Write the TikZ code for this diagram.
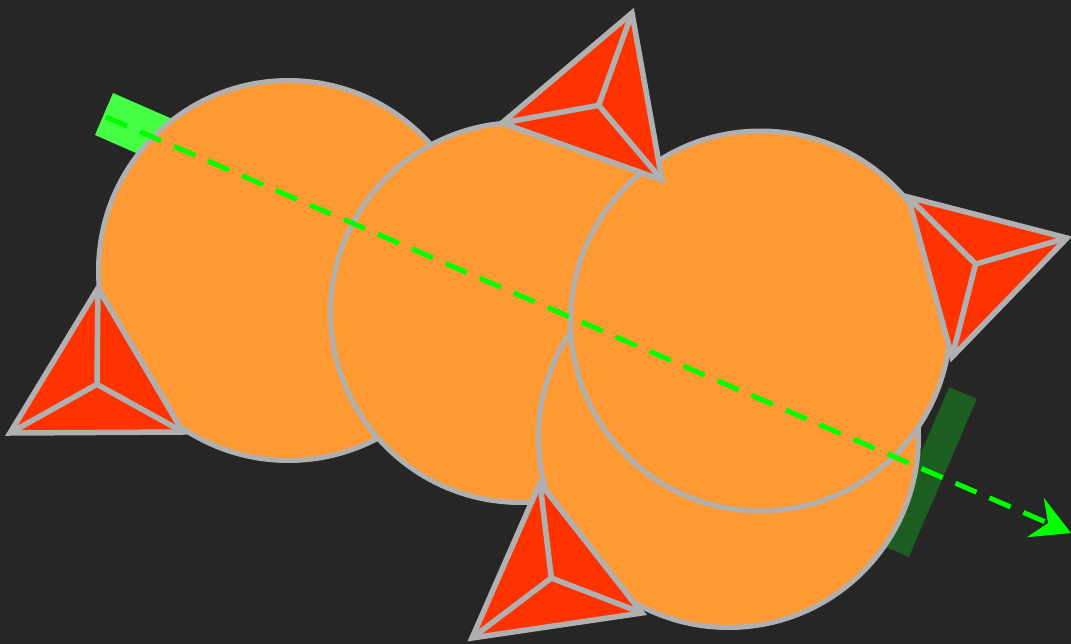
\documentclass[tikz,border=0pt]{standalone}
\usetikzlibrary{arrows.meta}
\definecolor{bg}{HTML}{262626}
\definecolor{orng}{HTML}{FF9933}
\definecolor{edge}{HTML}{B0B0B0}
\definecolor{tri}{HTML}{FF3300}
\definecolor{lgreen}{HTML}{44FF44}
\definecolor{dgreen}{HTML}{1B5E20}
\definecolor{arrowgreen}{HTML}{00FF00}
\tikzset{
  ball/.style={fill=orng, draw=edge, line width=5pt},
  tetra/.style={fill=tri, draw=edge, line width=5.5pt, line join=miter},
  spoke/.style={draw=edge, line width=5.5pt},
  flow/.style={draw=arrowgreen, line width=5pt, dash pattern=on 23pt off 14pt,
    -{Stealth[length=39pt,width=43pt,inset=14pt,line width=0pt]}}
}
\begin{document}
\begin{tikzpicture}[x=1pt,y=-1pt]
  \fill[bg] (0,0) rectangle (1071,644);
  \useasboundingbox (0,0) rectangle (1071,644);
  % green bars
  \fill[lgreen] (113,93) -- (186,125) -- (168,167) -- (95,135) -- cycle;
  \fill[dgreen] (949.2,387.1) -- (976.8,398.9) -- (908.8,556.9) -- (881.2,545.1) -- cycle;
  % circles
  \path[ball] (288.5,270.5) circle[radius=190];
  \path[ball] (520.5,312.5) circle[radius=190];
  \path[ball] (728.5,437.5) circle[radius=190];
  \path[ball] (760.5,321) circle[radius=190];
  % arrow
  \coordinate (s) at (106,117);
  \coordinate (e) at (1071,533);
  \draw[flow] (s) -- (e);
  % triangles
  \foreach \ax/\ay/\bx/\by/\cx/\cy in {632/13/502/123/662/180, 98/288/10/433/183/432, 540/483/472/638/642/613, 908/197/1067/238/952/357}{
    \path[tetra] (\ax,\ay) -- (\bx,\by) -- (\cx,\cy) -- cycle;
    \pgfmathsetmacro{\gx}{(\ax+\bx+\cx)/3}
    \pgfmathsetmacro{\gy}{(\ay+\by+\cy)/3}
    \draw[spoke] (\ax,\ay) -- (\gx,\gy) -- (\bx,\by) (\gx,\gy) -- (\cx,\cy);
  }
\end{tikzpicture}
\end{document}
